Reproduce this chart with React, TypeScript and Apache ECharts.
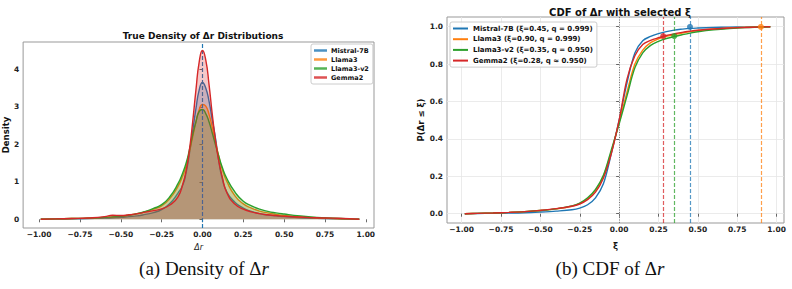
import React, { useEffect, useRef } from "react";
import * as echarts from "echarts";

// ---- Model names and colours ----
const models = ["Mistral-7B", "Llama3", "Llama3-v2", "Gemma2"];
const colors = ["#1f77b4", "#ff7f0e", "#2ca02c", "#d62728"];

// ---- Density of Δr (KDE curves) ----
const densityX = [
  -0.99, -0.9, -0.8, -0.7, -0.6, -0.55, -0.5, -0.45, -0.4, -0.35, -0.3, -0.25, -0.2, -0.15,
  -0.12, -0.1, -0.08, -0.06, -0.04, -0.02, 0, 0.02, 0.04, 0.06, 0.08, 0.1, 0.12, 0.15, 0.2,
  0.25, 0.3, 0.35, 0.4, 0.45, 0.5, 0.6, 0.7, 0.8, 0.9, 0.96,
];
const mistralDensity = [
  0, 0.005, 0.01, 0.02, 0.03, 0.04, 0.05, 0.07, 0.09, 0.13, 0.18, 0.26, 0.42, 0.7,
  0.92, 1.25, 1.75, 2.35, 2.95, 3.45, 3.65, 3.5, 3.15, 2.65, 2.15, 1.55, 1.1, 0.72, 0.45,
  0.3, 0.21, 0.15, 0.11, 0.09, 0.07, 0.04, 0.025, 0.015, 0.005, 0,
];
const llama3Density = [
  0, 0.01, 0.02, 0.03, 0.05, 0.065, 0.08, 0.11, 0.15, 0.2, 0.27, 0.36, 0.55, 0.88,
  1.17, 1.42, 1.8, 2.2, 2.6, 2.92, 3.06, 3.02, 2.8, 2.45, 2.05, 1.68, 1.35, 1.0, 0.62,
  0.41, 0.3, 0.22, 0.17, 0.13, 0.1, 0.06, 0.04, 0.02, 0.01, 0,
];
const llama3v2Density = [
  0, 0.01, 0.02, 0.03, 0.05, 0.065, 0.08, 0.11, 0.15, 0.21, 0.29, 0.39, 0.6, 0.95,
  1.25, 1.5, 1.85, 2.25, 2.6, 2.88, 2.93, 2.82, 2.6, 2.3, 1.98, 1.68, 1.4, 1.08, 0.72,
  0.48, 0.36, 0.27, 0.21, 0.17, 0.14, 0.09, 0.05, 0.03, 0.01, 0,
];
const gemma2Density = [
  0, 0.01, 0.02, 0.035, 0.07, 0.11, 0.1, 0.12, 0.15, 0.19, 0.23, 0.28, 0.38, 0.6,
  0.95, 1.3, 1.85, 2.6, 3.45, 4.2, 4.5, 4.25, 3.6, 2.8, 2.1, 1.55, 1.15, 0.7, 0.4,
  0.27, 0.2, 0.15, 0.12, 0.1, 0.08, 0.06, 0.04, 0.03, 0.015, 0,
];
const densities = [mistralDensity, llama3Density, llama3v2Density, gemma2Density];

// ---- Empirical CDF of Δr ----
const cdfX = [
  -0.98, -0.9, -0.8, -0.7, -0.6, -0.5, -0.4, -0.3, -0.25, -0.2, -0.15, -0.1, -0.05, 0,
  0.05, 0.1, 0.15, 0.2, 0.25, 0.3, 0.35, 0.4, 0.45, 0.5, 0.6, 0.7, 0.8, 0.9, 0.96,
];
const mistralCdf = [
  0, 0.001, 0.002, 0.003, 0.005, 0.009, 0.014, 0.021, 0.03, 0.048, 0.085, 0.16, 0.32, 0.5,
  0.7, 0.86, 0.925, 0.948, 0.963, 0.974, 0.982, 0.987, 0.991, 0.993, 0.996, 0.998, 0.999, 1.0, 1.0,
];
const llama3Cdf = [
  0, 0.002, 0.004, 0.007, 0.011, 0.017, 0.026, 0.04, 0.055, 0.08, 0.125, 0.2, 0.33, 0.49,
  0.65, 0.8, 0.875, 0.915, 0.935, 0.948, 0.957, 0.966, 0.974, 0.98, 0.988, 0.993, 0.997, 0.999, 1.0,
];
const llama3v2Cdf = [
  0, 0.002, 0.004, 0.007, 0.011, 0.017, 0.026, 0.042, 0.057, 0.085, 0.13, 0.205, 0.34, 0.48,
  0.63, 0.78, 0.86, 0.9, 0.922, 0.937, 0.947, 0.957, 0.966, 0.973, 0.983, 0.99, 0.995, 0.998, 1.0,
];
const gemma2Cdf = [
  0, 0.002, 0.004, 0.007, 0.011, 0.018, 0.027, 0.04, 0.052, 0.075, 0.115, 0.19, 0.32, 0.5,
  0.72, 0.845, 0.905, 0.927, 0.941, 0.953, 0.962, 0.97, 0.976, 0.981, 0.988, 0.993, 0.996, 0.999, 1.0,
];
const cdfs = [mistralCdf, llama3Cdf, llama3v2Cdf, gemma2Cdf];

// ---- Selected thresholds ----
const xiValues = [0.45, 0.9, 0.35, 0.28];
const qValues = [0.999, 0.999, 0.95, 0.95];
const qSigns = ["=", "=", "=", "≈"];

// ---- Tick values ----
const xTicks = [-1, -0.75, -0.5, -0.25, 0, 0.25, 0.5, 0.75, 1];
const densityTicks = [0, 1, 2, 3, 4];
const cdfTicks = [0, 0.2, 0.4, 0.6, 0.8, 1.0];

const FONT = "DejaVu Sans";
const minus = (s: string) => s.replace("-", "\u2212");

function App() {
  const ref = useRef<HTMLDivElement>(null);

  useEffect(() => {
    if (!ref.current) return;
    const chart = echarts.init(ref.current, undefined, { renderer: "svg" });

    const cdfNames = models.map(
      (m, i) => `${m} (ξ=${xiValues[i].toFixed(2)}, q ${qSigns[i]} ${qValues[i].toFixed(3)})`
    );

    const tickLabel = {
      fontSize: 7.5,
      fontWeight: "bold" as const,
      color: "#222",
      fontFamily: FONT,
    };

    const xAxisCommon = (grid: number, min: number, max: number) => ({
      gridIndex: grid,
      type: "value" as const,
      min,
      max,
      axisLine: { show: false },
      axisTick: { show: true, customValues: xTicks, length: 3, lineStyle: { color: "#444", width: 0.8 } },
      axisLabel: { ...tickLabel, customValues: xTicks, margin: 2.5, formatter: (v: number) => minus(v.toFixed(2)) },
    });

    const densitySeries = models.map((m, i) => ({
      name: m,
      type: "line",
      xAxisIndex: 0,
      yAxisIndex: 0,
      data: densityX.map((x, k) => [x, densities[i][k]]),
      smooth: 0.55,
      showSymbol: false,
      symbol: "none",
      lineStyle: { color: colors[i], width: 1.4 },
      itemStyle: { color: colors[i] },
      areaStyle: { color: colors[i], opacity: 0.25 },
      z: 2 + i,
      markLine:
        i === 0
          ? {
              silent: true,
              symbol: "none",
              label: { show: false },
              lineStyle: { color: colors[0], type: [4, 2], width: 1.2 },
              data: [{ xAxis: 0 }],
            }
          : undefined,
    }));

    const cdfSeries = models.map((m, i) => ({
      name: cdfNames[i],
      type: "line",
      xAxisIndex: 1,
      yAxisIndex: 1,
      data: cdfX.map((x, k) => [x, cdfs[i][k]]),
      smooth: 0.35,
      showSymbol: false,
      symbol: "none",
      lineStyle: { color: colors[i], width: 1.4 },
      itemStyle: { color: colors[i] },
      z: 3 + i,
      markLine: {
        silent: true,
        symbol: "none",
        label: { show: false },
        data: [
          { xAxis: xiValues[i], lineStyle: { color: colors[i], type: [4, 2], width: 1.2, opacity: 0.75 } },
          ...(i === 0
            ? [{ xAxis: 0, lineStyle: { color: "#777", type: [1, 1.5], width: 1, opacity: 1 } }]
            : []),
        ],
      },
    }));

    const markerSeries = models.map((m, i) => ({
      name: `${m} ξ`,
      type: "scatter",
      xAxisIndex: 1,
      yAxisIndex: 1,
      data: [[xiValues[i], qValues[i]]],
      symbol: "circle",
      symbolSize: 6,
      itemStyle: { color: colors[i] },
      z: 10,
    }));

    chart.setOption({
      animation: false,
      title: [
        {
          text: "True Density of Δr Distributions",
          left: 198,
          top: 26,
          textAlign: "center",
          textStyle: { fontSize: 9, fontWeight: "bold", fontFamily: FONT, color: "#111" },
        },
        {
          text: "CDF of Δr with selected ξ",
          left: 615,
          top: 2,
          textAlign: "center",
          textStyle: { fontSize: 10, fontWeight: "bold", fontFamily: FONT, color: "#111" },
        },
      ],
      grid: [
        { left: 23, top: 42, width: 351, height: 186, show: true, borderColor: "#999", borderWidth: 1 },
        { left: 447, top: 17, width: 337, height: 206, show: true, borderColor: "#999", borderWidth: 1 },
      ],
      legend: [
        {
          data: models,
          orient: "vertical",
          left: 311,
          top: 44,
          icon: "rect",
          itemWidth: 13,
          itemHeight: 2.5,
          itemGap: 2,
          padding: [3, 4, 3, 3],
          borderColor: "#ccc",
          borderWidth: 1,
          borderRadius: 2,
          backgroundColor: "rgba(255,255,255,0.8)",
          itemStyle: { opacity: 0.8 },
          textStyle: { fontSize: 6.5, fontWeight: "bold", fontFamily: FONT, color: "#111", padding: [0, 0, 0, -1] },
        },
        {
          data: cdfNames,
          orient: "vertical",
          left: 450,
          top: 22,
          icon: "rect",
          itemWidth: 15,
          itemHeight: 2,
          itemGap: 3.7,
          padding: [3, 4, 3, 3],
          borderColor: "#ccc",
          borderWidth: 1,
          borderRadius: 2,
          backgroundColor: "rgba(255,255,255,0.8)",
          textStyle: { fontSize: 7, fontWeight: "bold", fontFamily: FONT, color: "#111" },
        },
      ],
      xAxis: [
        {
          ...xAxisCommon(0, -1.098, 1.05),
          splitLine: { show: false },
          name: "Δr",
          nameLocation: "middle",
          nameGap: 14,
          nameTextStyle: { fontSize: 8, fontStyle: "italic", fontFamily: FONT, color: "#222" },
        },
        {
          ...xAxisCommon(1, -1.093, 1.047),
          splitLine: { show: true, lineStyle: { color: "#e6e6e6", width: 0.8 } },
          name: "ξ",
          nameLocation: "middle",
          nameGap: 18,
          nameTextStyle: { fontSize: 8.5, fontWeight: "bold", fontFamily: FONT, color: "#111" },
        },
      ],
      yAxis: [
        {
          gridIndex: 0,
          type: "value",
          min: -0.232,
          max: 4.728,
          axisLine: { show: false },
          axisTick: { show: true, customValues: densityTicks, length: 3, lineStyle: { color: "#444", width: 0.8 } },
          axisLabel: { ...tickLabel, customValues: densityTicks, margin: 4 },
          splitLine: { show: false },
          name: "Density",
          nameLocation: "middle",
          nameGap: 9,
          nameTextStyle: { fontSize: 8.5, fontWeight: "bold", fontFamily: FONT, color: "#111" },
        },
        {
          gridIndex: 1,
          type: "value",
          min: -0.0497,
          max: 1.052,
          axisLine: { show: false },
          axisTick: { show: true, customValues: cdfTicks, length: 3, lineStyle: { color: "#444", width: 0.8 } },
          axisLabel: { ...tickLabel, customValues: cdfTicks, margin: 4, formatter: (v: number) => v.toFixed(1) },
          splitLine: { show: true, lineStyle: { color: "#e6e6e6", width: 0.8 } },
          name: "P(Δr ≤ ξ)",
          nameLocation: "middle",
          nameGap: 20,
          nameTextStyle: { fontSize: 8.5, fontWeight: "bold", fontFamily: FONT, color: "#111" },
        },
      ],
      series: [...densitySeries, ...cdfSeries, ...markerSeries],
      graphic: [
        {
          type: "text",
          x: 204,
          y: 268,
          style: {
            text: "(a) Density of Δ{i|r}",
            rich: { i: { fontStyle: "italic", fontSize: 19, fontFamily: "Liberation Serif", fill: "#111" } },
            fontSize: 19,
            fontFamily: "Liberation Serif",
            fill: "#111",
            textAlign: "center",
            textVerticalAlign: "middle",
          },
        },
        {
          type: "text",
          x: 610,
          y: 268,
          style: {
            text: "(b) CDF of Δ{i|r}",
            rich: { i: { fontStyle: "italic", fontSize: 19, fontFamily: "Liberation Serif", fill: "#111" } },
            fontSize: 19,
            fontFamily: "Liberation Serif",
            fill: "#111",
            textAlign: "center",
            textVerticalAlign: "middle",
          },
        },
      ],
    });

    return () => chart.dispose();
  }, []);

  return (
    <div
      ref={ref}
      style={{ position: "absolute", left: 0, top: 0, width: 792, height: 289, background: "#fff" }}
    />
  );
}

export default App;
